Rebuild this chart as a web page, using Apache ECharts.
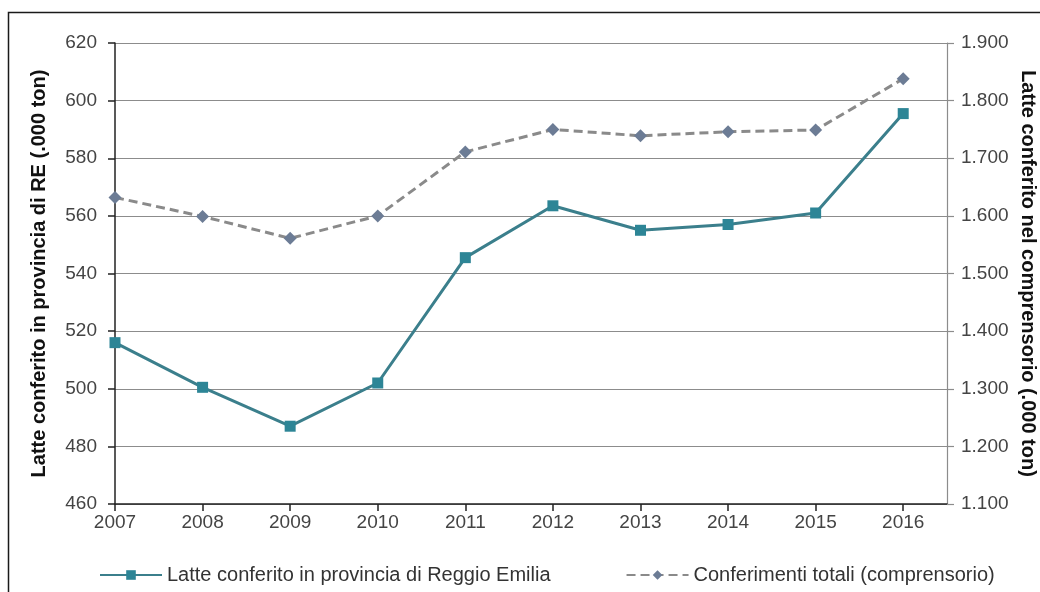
<!DOCTYPE html>
<html>
<head>
<meta charset="utf-8">
<script src="https://cdn.jsdelivr.net/npm/echarts@6/dist/echarts.min.js"></script>
<style>
  html, body { margin: 0; padding: 0; background: #ffffff; }
  #chart { width: 1040px; height: 592px; }
</style>
</head>
<body>
<div id="chart"></div>
<script>
// Anni
const years = [2007, 2008, 2009, 2010, 2011, 2012, 2013, 2014, 2015, 2016];
// Latte conferito in provincia di Reggio Emilia (.000 ton)
const latteRE = [516, 500.5, 487, 502, 545.5, 563.5, 555, 557, 561, 595.5];
// Conferimenti totali nel comprensorio (.000 ton)
const comprensorio = [1632, 1599, 1561, 1600, 1711, 1750, 1739, 1746, 1749, 1838];

const seriesNames = [
  'Latte conferito in provincia di Reggio Emilia',
  'Conferimenti totali (comprensorio)'
];

const FONT = 'Liberation Sans, Arial, sans-serif';
const TEAL = '#2d8596';
const TEAL_LINE = '#3b7f8c';
const GREY_LINE = '#8a8a8a';
const GREY_MARK = '#6c7c95';

// formato italiano con punto delle migliaia: 1900 -> "1.900"
function fmtThousands(v) {
  const t = Math.floor(v / 1000);
  const r = String(Math.round(v % 1000)).padStart(3, '0');
  return t + '.' + r;
}

const chart = echarts.init(document.getElementById('chart'), null, { renderer: 'canvas' });

chart.setOption({
  backgroundColor: '#ffffff',
  animation: false,
  textStyle: { fontFamily: FONT },
  graphic: [{
    type: 'rect',
    shape: { x: 8.5, y: 12.5, width: 1200, height: 800 },
    style: { fill: 'none', stroke: '#1a1a1a', lineWidth: 1.5 },
    silent: true
  }],
  grid: {
    left: 115, right: 93, top: 43, bottom: 88,
    containLabel: false,
    outerBoundsMode: 'none'
  },
  legend: {
    left: 94,
    bottom: 2,
    itemWidth: 62,
    itemHeight: 12,
    itemGap: 75,
    textStyle: { fontFamily: FONT, fontSize: 20, color: '#333333' },
    data: seriesNames
  },
  xAxis: {
    type: 'value',
    min: 2007,
    max: 2016.5,
    interval: 1,
    axisLine: { show: true, onZero: false, lineStyle: { color: '#222222', width: 1.5 } },
    axisTick: { show: true, length: 7, customValues: years, lineStyle: { color: '#222222', width: 1.5 } },
    axisLabel: {
      customValues: years,
      fontFamily: FONT, fontSize: 19, color: '#444444', margin: 9,
      formatter: v => String(v)
    },
    splitLine: { show: false }
  },
  yAxis: [{
    type: 'value',
    min: 460,
    max: 620,
    interval: 20,
    name: 'Latte conferito in provincia di RE (.000 ton)',
    nameLocation: 'middle',
    nameGap: 66,
    nameMoveOverlap: false,
    nameTextStyle: { fontFamily: FONT, fontSize: 20, fontWeight: 'bold', color: '#111111' },
    axisLine: { show: true, lineStyle: { color: '#222222', width: 1.5 } },
    axisTick: { show: true, length: 7, lineStyle: { color: '#222222', width: 1.5 } },
    axisLabel: { fontFamily: FONT, fontSize: 19, color: '#444444', margin: 18 },
    splitLine: { show: true, lineStyle: { color: '#8c8c8c', width: 1.2 } }
  }, {
    type: 'value',
    min: 1100,
    max: 1900,
    interval: 100,
    position: 'right',
    name: 'Latte conferito nel comprensorio (.000 ton)',
    nameLocation: 'middle',
    nameGap: 71,
    nameRotate: -90,
    nameMoveOverlap: false,
    nameTextStyle: { fontFamily: FONT, fontSize: 20, fontWeight: 'bold', color: '#111111' },
    axisLine: { show: true, lineStyle: { color: '#8c8c8c', width: 1.2 } },
    axisTick: { show: true, length: 7, lineStyle: { color: '#8c8c8c', width: 1.2 } },
    axisLabel: {
      fontFamily: FONT, fontSize: 19, color: '#444444', margin: 14,
      formatter: fmtThousands
    },
    splitLine: { show: false }
  }],
  series: [{
    name: seriesNames[0],
    type: 'line',
    yAxisIndex: 0,
    data: years.map((y, i) => [y, latteRE[i]]),
    symbol: 'rect',
    symbolSize: 11,
    itemStyle: { color: TEAL },
    lineStyle: { color: TEAL_LINE, width: 3 },
    z: 3
  }, {
    name: seriesNames[1],
    type: 'line',
    yAxisIndex: 1,
    data: years.map((y, i) => [y, comprensorio[i]]),
    symbol: 'diamond',
    symbolSize: 13,
    itemStyle: { color: GREY_MARK },
    lineStyle: { color: GREY_LINE, width: 3, type: [9, 5] },
    z: 2
  }]
});
</script>
</body>
</html>
